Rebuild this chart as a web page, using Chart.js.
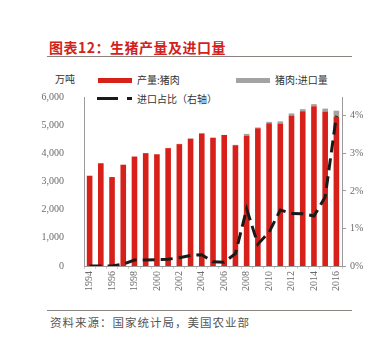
<!DOCTYPE html>
<html>
<head>
<meta charset="utf-8">
<script src="https://cdn.jsdelivr.net/npm/chart.js@4.4.1/dist/chart.umd.min.js"></script>
<style>
  body { margin: 0; background: #fff; }
  #wrap { position: relative; width: 382px; height: 339px; overflow: hidden; font-family: "Noto Sans CJK SC", sans-serif; }
  #title { position: absolute; left: 49px; top: 37px; font-size: 14px; font-weight: bold; color: #d2221b; letter-spacing: 0.5px; }
  .rule { position: absolute; left: 47px; width: 305px; height: 1px; background: #8a8480; }
  .txt { position: absolute; font-size: 10px; color: #333; line-height: 12px; }
  .sw { position: absolute; height: 5px; }
  #chartBox { position: absolute; left: 0; top: 79px; width: 382px; height: 221px; }
  #source { position: absolute; left: 50px; top: 314px; font-size: 11.5px; color: #555; letter-spacing: 1px; }
</style>
</head>
<body>
<div id="wrap">
  <div id="title">图表12：生猪产量及进口量</div>
  <div class="rule" style="top:56px"></div>
  <div class="txt" style="left:55px; top:73px">万吨</div>
  <div class="sw" style="left:98px; top:78px; width:34px; background:#d7201a"></div>
  <div class="txt" style="left:137px; top:74px">产量:猪肉</div>
  <div class="sw" style="left:236px; top:78px; width:34px; background:#a5a3a1"></div>
  <div class="txt" style="left:275px; top:74px">猪肉:进口量</div>
  <div class="sw" style="left:97px; top:97px; width:21px; height:3px; background:#1c1a17"></div>
  <div class="sw" style="left:127px; top:97px; width:5px; height:3px; background:#1c1a17"></div>
  <div class="txt" style="left:137px; top:93px">进口占比（右轴）</div>
  <div id="chartBox"><canvas id="porkChart"></canvas></div>
  <div class="rule" style="top:310px"></div>
  <div id="source">资料来源：国家统计局，美国农业部</div>
</div>
<script>
// years on the x axis
let years = ["1994", "1995", "1996", "1997", "1998", "1999", "2000", "2001", "2002", "2003", "2004", "2005",
  "2006", "2007", "2008", "2009", "2010", "2011", "2012", "2013", "2014", "2015", "2016"];

// 产量:猪肉 (万吨)
let production = [3205, 3648, 3158, 3596, 3884, 4006, 3966, 4185, 4327, 4519, 4702, 4555,
  4650, 4288, 4621, 4891, 5071, 5060, 5343, 5493, 5671, 5487, 5299];

// 猪肉:进口量 (万吨)
let imports = [1, 1, 1, 2, 6, 7, 7, 8, 10, 13, 14, 5,
  5, 14, 70, 28, 46, 75, 74, 76, 76, 101, 215];

// 进口占比 (%, right axis)
let importShare = [0, 0, 0, 0.05, 0.16, 0.16, 0.17, 0.18, 0.22, 0.28, 0.3, 0.11,
  0.1, 0.33, 1.52, 0.58, 0.9, 1.49, 1.4, 1.39, 1.33, 1.84, 4.0];

let leftTicks = [0, 1000, 2000, 3000, 4000, 5000, 6000];
let rightTicks = [0, 1, 2, 3, 4];

let tickFont = { family: "'Liberation Serif', 'DejaVu Serif', serif", size: 10 };
let tickColor = "#6b6b6b";
let axisColor = "#9a9a9a";

let ctx = document.getElementById("porkChart").getContext("2d");
new Chart(ctx, {
  type: "bar",
  data: {
    labels: years,
    datasets: [
      {
        label: "产量:猪肉",
        data: production,
        backgroundColor: "#d7201a",
        barPercentage: 0.5,
        categoryPercentage: 1,
        order: 2
      },
      {
        label: "猪肉:进口量",
        data: imports,
        backgroundColor: "#a5a3a1",
        barPercentage: 0.5,
        categoryPercentage: 1,
        order: 2
      },
      {
        type: "line",
        label: "进口占比（右轴）",
        data: importShare,
        yAxisID: "y1",
        borderColor: "#1c1a17",
        borderWidth: 3,
        borderDash: [12, 6],
        pointRadius: 0,
        tension: 0,
        fill: false,
        order: 1
      }
    ]
  },
  options: {
    responsive: true,
    maintainAspectRatio: false,
    animation: false,
    layout: { padding: { top: 10, left: 0, right: 0, bottom: 0 } },
    plugins: {
      legend: { display: false },
      tooltip: { enabled: false }
    },
    scales: {
      x: {
        stacked: true,
        grid: { display: true, drawOnChartArea: false, tickLength: 3, color: "#d0d0d0" },
        border: { color: axisColor },
        ticks: {
          autoSkip: false,
          minRotation: 90,
          maxRotation: 90,
          padding: 2,
          font: tickFont,
          color: tickColor,
          callback: function (val, i) { return i % 2 === 0 ? years[i] : ""; }
        },
        afterFit: function (scale) { scale.height = 34; }
      },
      y: {
        stacked: true,
        min: 0,
        max: 6000,
        grid: { display: false },
        border: { color: axisColor },
        afterBuildTicks: function (scale) { scale.ticks = leftTicks.map(v => ({ value: v })); },
        ticks: {
          padding: 12,
          font: tickFont,
          color: tickColor,
          callback: function (v) { return v.toLocaleString("en-US"); }
        },
        afterFit: function (scale) { scale.width = 84; }
      },
      y1: {
        position: "right",
        min: 0,
        max: 4.5,
        grid: { display: true, drawOnChartArea: false, tickLength: 4, color: axisColor },
        border: { color: axisColor },
        afterBuildTicks: function (scale) { scale.ticks = rightTicks.map(v => ({ value: v })); },
        ticks: {
          padding: 4,
          font: tickFont,
          color: tickColor,
          callback: function (v) { return v + "%"; }
        },
        afterFit: function (scale) { scale.width = 40; }
      }
    }
  }
});
</script>
</body>
</html>
